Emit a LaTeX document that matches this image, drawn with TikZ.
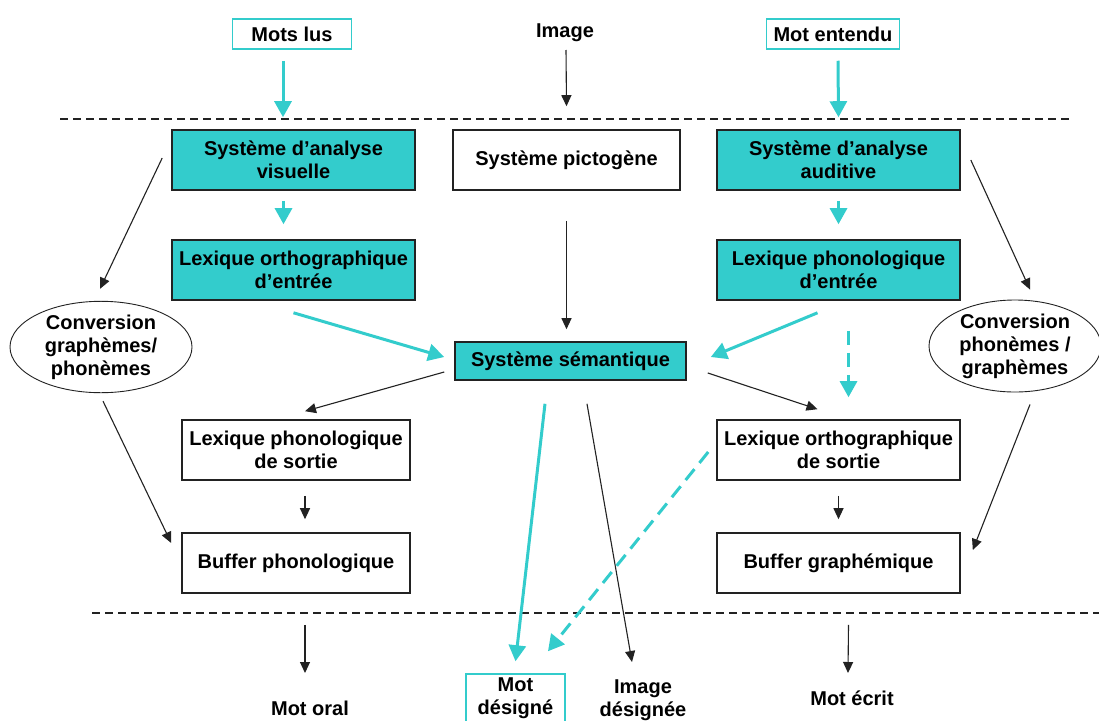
\documentclass[tikz,border=0pt]{standalone}
\usepackage{fontspec}
\setmainfont{Liberation Sans}
\usetikzlibrary{arrows.meta,calc,shapes.geometric}
\definecolor{turq}{RGB}{51,204,204}
\definecolor{edge}{RGB}{34,34,34}
\begin{document}
\begin{tikzpicture}[x=1pt,y=-1pt,
  every node/.style={font=\fontsize{20}{23}\selectfont\bfseries, align=center, inner sep=0pt},
  procbox/.style={draw=edge, line width=1.6pt, minimum width=243, minimum height=60},
  cyanbox/.style={procbox, fill=turq},
  inbox/.style={draw=turq, line width=1.5pt, minimum height=30},
  convell/.style={ellipse, draw=edge, line width=0.9pt},
  cflow/.style={turq, line width=3pt, -{Triangle[width=17pt,length=16pt]}},
  cdash/.style={cflow, dash pattern=on 14pt off 8pt},
  kflow/.style={edge, line width=1.1pt, -{Triangle[width=10pt,length=11pt]}},
  level/.style={edge, line width=1.3pt, dash pattern=on 8pt off 5pt}]
\clip (0,0) rectangle (1099,720);
\fill[white] (0,0) rectangle (1099,720);

% inputs
\node[inbox, minimum width=119] (mots) at (292,34) {Mots lus};
\node (image) at (565,33) {Image};
\node[inbox, minimum width=133] (entendu) at (833,34) {Mot entendu};

% separators
\draw[level] (60,119) -- (1070,119);
\draw[level] (92,613) -- (1099,613);

% processing boxes
\node[cyanbox] (vis) at (293.5,160) {Système d’analyse\\visuelle};
\node[procbox, minimum width=227] (picto) at (566.5,160) {Système pictogène};
\node[cyanbox] (aud) at (838.5,160) {Système d’analyse\\auditive};
\node[cyanbox] (lexoe) at (293.5,270) {Lexique orthographique\\d’entrée};
\node[cyanbox] (lexpe) at (838.5,270) {Lexique phonologique\\d’entrée};
\node[cyanbox, minimum width=231, minimum height=38] (sem) at (570.5,361) {Système sémantique};
\node[procbox, minimum width=228] (lexps) at (296,450) {Lexique phonologique\\de sortie};
\node[procbox] (lexos) at (838.5,450) {Lexique orthographique\\de sortie};
\node[procbox, minimum width=228] (bufp) at (296,563) {Buffer phonologique};
\node[procbox] (bufg) at (838.5,563) {Buffer graphémique};
\node[convell, minimum width=182, minimum height=90] (convl) at (101,347) {Conversion\\graphèmes/\\phonèmes};
\node[convell, minimum width=172, minimum height=92] (convr) at (1015,346) {Conversion\\phonèmes /\\graphèmes};

% outputs
\node (oral) at (310,708) {Mot oral};
\node[draw=turq, line width=1.5pt, minimum width=99, minimum height=50] (desig) at (515.5,699) {};
\node at (515.5,698) {Mot\\désigné};
\node (imgd) at (643,700) {Image\\désignée};
\node (ecrit) at (852,698) {Mot écrit};

% connectors
\draw[cflow] ($(mots.south)+(-9,11)$) -- ($(vis.north)+(-10.5,-12)$);
\draw[kflow] ($(image)+(1,17)$) -- ($(picto.north)+(0,-23)$);
\draw[cflow] ($(entendu.south)+(5,11)$) -- ($(aud.north)+(0,-12)$);
\draw[cflow] ($(vis.south)+(-10,10)$) -- ($(lexoe.north)+(-10,-15)$);
\draw[cflow] ($(aud.south)+(0,10)$) -- ($(lexpe.north)+(0,-15)$);
\draw[kflow] ($(picto.south)+(0,30)$) -- ($(sem.north)+(-4,-12)$);
\draw[cflow] ($(lexoe.south)+(0,12)$) -- ($(sem.west)+(-10,-4)$);
\draw[cflow] ($(lexpe.south)+(-21,12)$) -- ($(sem.east)+(24,-4)$);
\draw[cdash] ($(lexpe.south)+(10,30)$) -- ($(lexos.north)+(10,-22)$);
\draw[kflow] ($(sem.west)+(-10,11)$) -- ($(lexps.north)+(9,-8)$);
\draw[kflow] ($(sem.east)+(21,12)$) -- ($(lexos.north)+(-21,-10)$);
\draw[kflow] ($(vis.west)+(-9,-2)$) -- ($(convl.north)+(-1,-12)$);
\draw[kflow] ($(aud.east)+(10,0)$) -- ($(convr.north)+(15,-10)$);
\draw[kflow] ($(convl.south)+(2,8)$) -- ($(bufp.west)+(-10,-20)$);
\draw[kflow] ($(convr.south)+(15,12)$) -- ($(bufg.east)+(12,-13)$);
\draw[kflow] ($(lexps.south)+(9,15)$) -- ($(bufp.north)+(9,-13)$);
\draw[kflow] ($(lexos.south)+(0,15)$) -- ($(bufg.north)+(0,-13)$);
\draw[kflow] ($(bufp.south)+(9,31)$) -- ($(oral)+(-5,-35)$);
\draw[kflow] ($(bufg.south)+(10,31)$) -- ($(ecrit)+(-4,-25)$);
\draw[cflow] ($(sem.south)+(-25.5,23)$) -- ($(desig.north)+(0,-12)$);
\draw[kflow] ($(sem.south)+(16.5,23)$) -- ($(imgd)+(-11,-38)$);
\draw[cdash] ($(lexos.west)+(-8,2)$) -- ($(desig.north)+(32.5,-22)$);
\end{tikzpicture}
\end{document}
